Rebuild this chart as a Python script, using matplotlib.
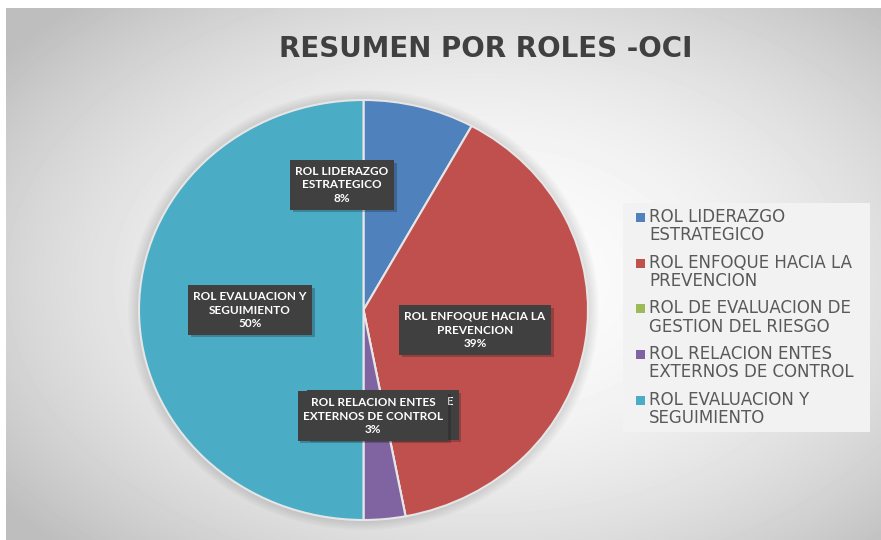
import numpy as np
import matplotlib.pyplot as plt
import matplotlib.patheffects as pe
from matplotlib.patches import Ellipse, Rectangle

roles = ['ROL LIDERAZGO\nESTRATEGICO',
         'ROL ENFOQUE HACIA LA\nPREVENCION',
         'ROL DE EVALUACION DE\nGESTION DEL RIESGO',
         'ROL RELACION ENTES\nEXTERNOS DE CONTROL',
         'ROL EVALUACION Y\nSEGUIMIENTO']
porcentajes = [8, 39, 0, 3, 50]
colores = ['#4F81BD', '#C0504D', '#9BBB59', '#8064A2', '#4BACC6']

# label box centres (px) for each slice, in the same order
pos_etiquetas = [(342, 185), (475, 330), (383, 415), (373, 416), (250, 310)]

W, H = 881, 540
fig = plt.figure(figsize=(W / 100, H / 100), dpi=100)


def fx(px):
    return px / W


def fy(py):
    return 1 - py / H


# chart area with a soft radial gradient
bg = fig.add_axes([6 / W, 0, 1 - 6 / W, 1 - 8 / H])
xx, yy = np.meshgrid(np.arange(6, W), np.arange(8, H))
r2 = ((xx - 480) / 520.0) ** 2 + ((yy - 280) / 330.0) ** 2
grad = np.clip(252 - 48 * r2, 190, 252) / 255.0
bg.imshow(grad, cmap='gray', vmin=0, vmax=1, aspect='auto', interpolation='bilinear')
bg.axis('off')

ax = fig.add_axes([139 / W, fy(520), 449 / W, 420 / H])
# faint shadow around the pie
for k in range(6):
    s = 1.0 + 0.008 * (k + 1)
    ax.add_patch(Ellipse((0.0, 0.0), 2 * s, 2 * s, facecolor='#000000',
                         alpha=0.018, edgecolor='none', zorder=0, clip_on=False))
wedges, _ = ax.pie(porcentajes, colors=colores, startangle=90, counterclock=False,
                   wedgeprops=dict(edgecolor='#e6e6e6', linewidth=1.5))
ax.set_xlim(-1, 1)
ax.set_ylim(-1, 1)
ax.set_aspect('auto')
ax.axis('off')

total = sum(porcentajes)
orden = [2, 0, 1, 4, 3]  # green label sits underneath the purple one
for z, i in enumerate(orden):
    x, y = pos_etiquetas[i]
    txt = roles[i] + '\n' + f'{porcentajes[i] / total * 100:.0f}%'
    t = fig.text(fx(x), fy(y), txt, ha='center', va='center', fontsize=8.5,
                 family='Lato', fontweight='bold', color='white', linespacing=1.3,
                 zorder=10 + z,
                 bbox=dict(boxstyle='square,pad=0.45', fc='#404040', ec='none'))
    t.get_bbox_patch().set_path_effects(
        [pe.SimplePatchShadow(offset=(2, -2), alpha=0.25), pe.Normal()])

# legend panel, square key aligned with the first line of each entry
fig.add_artist(Rectangle((fx(623), fy(432)), 247 / W, 229 / H, transform=fig.transFigure,
                         facecolor='#f2f2f2', edgecolor='none', zorder=5))
for i, (rol, c) in enumerate(zip(roles, colores)):
    ytop = 211 + 45.7 * i
    fig.add_artist(Rectangle((fx(636), fy(ytop + 11)), 9 / W, 9 / H,
                             transform=fig.transFigure, facecolor=c,
                             edgecolor='none', zorder=6))
    fig.text(fx(649), fy(ytop - 3), rol, ha='left', va='top', fontsize=12,
             color='#595959', linespacing=1.02, zorder=6)

fig.text(fx(486), fy(49), 'RESUMEN POR ROLES -OCI', ha='center', va='center',
         fontsize=20, fontweight='bold', color='#404040')

fig.savefig('out.png', dpi=100)
